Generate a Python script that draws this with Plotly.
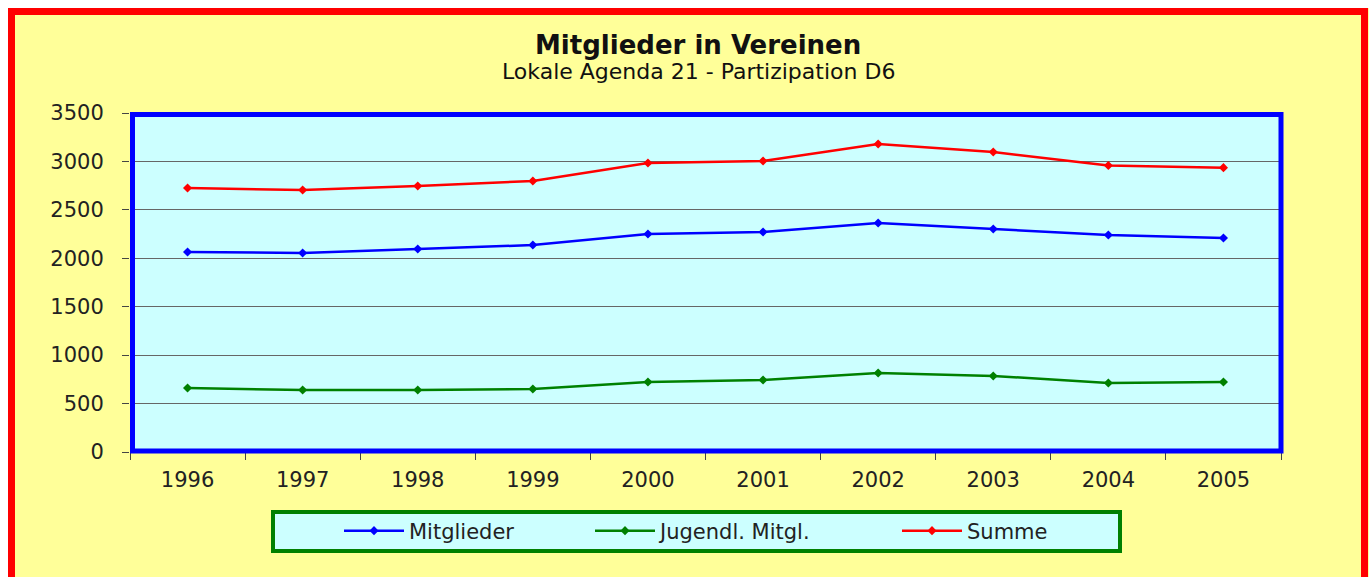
import plotly.graph_objects as go

years = ["1996", "1997", "1998", "1999", "2000", "2001", "2002", "2003", "2004", "2005"]
mitglieder = [2065, 2055, 2096, 2137, 2251, 2271, 2364, 2302, 2240, 2209]
jugendl = [661, 640, 640, 650, 723, 743, 815, 785, 712, 723]
summe = [2726, 2705, 2746, 2798, 2984, 3005, 3180, 3097, 2958, 2936]
y_ticks = [0, 500, 1000, 1500, 2000, 2500, 3000, 3500]

FONT = "DejaVu Sans"
W, H = 1361, 569
L, T = 122, 105
PW, PH = 1151, 339


def px(a):  # absolute page x -> paper
    return (a - 130) / PW


def py(a):  # absolute page y -> paper
    return (452 - a) / PH


series = [
    ("Mitglieder", mitglieder, "#0000FF", "legend", 344),
    ("Jugendl. Mitgl.", jugendl, "#008000", "legend2", 595),
    ("Summe", summe, "#FF0000", "legend3", 902),
]

fig = go.Figure()
for name, vals, col, lg, _ in series:
    fig.add_trace(go.Scatter(
        x=years, y=vals, name=name, mode="lines+markers",
        line=dict(color=col, width=2.5),
        marker=dict(symbol="diamond", size=7, color=col),
        legend=lg,
    ))

legend_common = dict(
    orientation="h", yanchor="middle", xanchor="left",
    bgcolor="rgba(0,0,0,0)", borderwidth=0, itemwidth=60,
    font=dict(family=FONT, size=21, color="#222222"),
)
layout_legends = {}
for name, vals, col, lg, x0 in series:
    layout_legends[lg] = dict(legend_common, x=px(x0 - 5), y=py(531))

fig.update_layout(
    width=W, height=H,
    margin=dict(l=L, r=W - L - PW, t=T, b=H - T - PH, pad=0),
    paper_bgcolor="#FFFF99",
    plot_bgcolor="#CCFFFF",
    showlegend=True,
    **layout_legends,
    xaxis=dict(
        type="category", range=[-0.5, 9.5],
        tickson="boundaries", ticks="outside", ticklen=7, tickcolor="#444444",
        tickfont=dict(family=FONT, size=21, color="#222222"),
        showgrid=False, zeroline=False, showline=False,
        ticklabelstandoff=13,
    ),
    yaxis=dict(
        range=[0, 3500], tickvals=y_ticks,
        ticks="outside", ticklen=7, tickcolor="#444444",
        tickfont=dict(family=FONT, size=21, color="#222222"),
        showgrid=True, gridcolor="#666666", gridwidth=1,
        zeroline=False, showline=False,
        ticklabelstandoff=14,
    ),
    shapes=[
        # outer red frame
        dict(type="rect", xref="paper", yref="paper",
             x0=px(11.5), x1=px(1364.5), y0=py(620), y1=py(11.5),
             line=dict(color="#FF0000", width=7), layer="above"),
        # plot border
        dict(type="rect", xref="paper", yref="paper",
             x0=px(132.5), x1=px(1281), y0=py(451), y1=py(114.5),
             line=dict(color="#0000FF", width=5), layer="above"),
        # legend box
        dict(type="rect", xref="paper", yref="paper",
             x0=px(273), x1=px(1120), y0=py(551), y1=py(512),
             line=dict(color="#008000", width=4), fillcolor="#CCFFFF",
             layer="below"),
    ],
    annotations=[
        dict(text="<b>Mitglieder in Vereinen</b>", xref="paper", yref="paper",
             x=px(698), y=py(45), showarrow=False, xanchor="center", yanchor="middle",
             font=dict(family=FONT, size=26, color="#111111")),
        dict(text="Lokale Agenda 21 - Partizipation D6", xref="paper", yref="paper",
             x=px(698), y=py(72), showarrow=False, xanchor="center", yanchor="middle",
             font=dict(family=FONT, size=22, color="#111111")),
    ],
)

fig.write_html(
    "out.html",
    post_script="document.body.style.margin='8px 0 0 8px';document.body.style.overflow='hidden';",
)
